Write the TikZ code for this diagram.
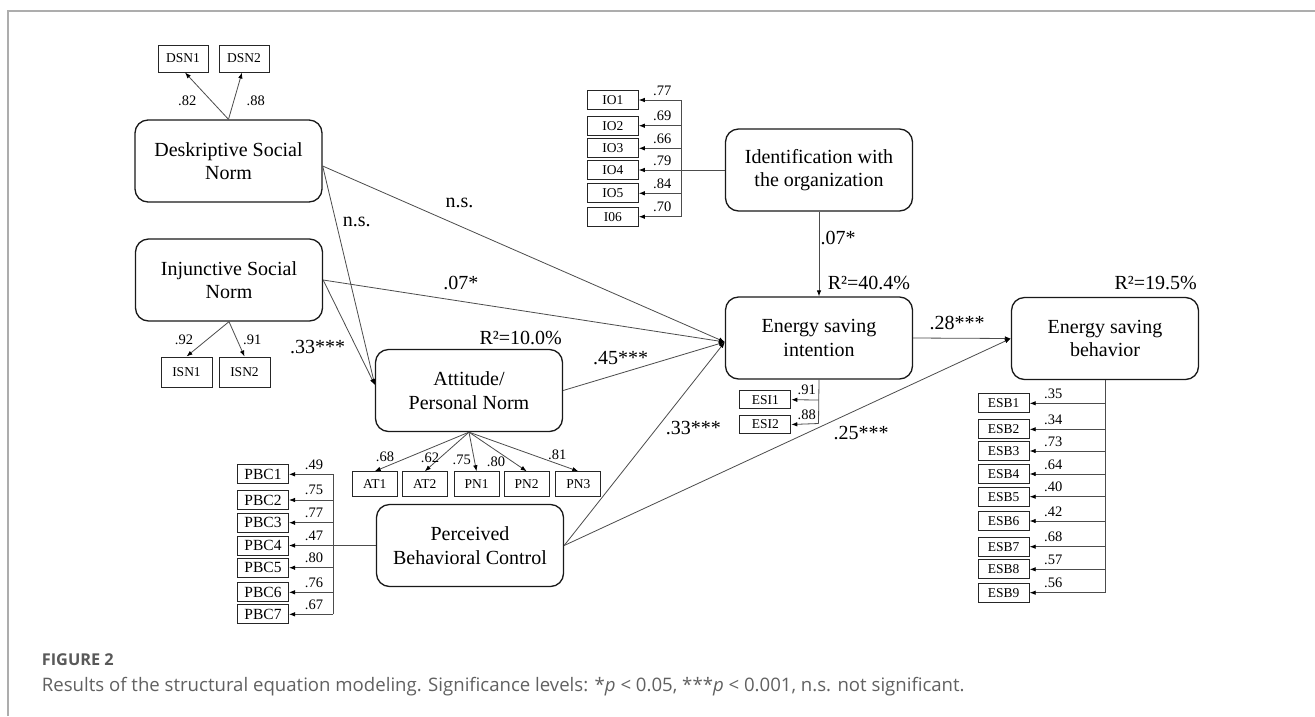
\documentclass[tikz,border=0pt]{standalone}
\usepackage{fontspec}
\setmainfont{Liberation Serif}
\newfontfamily\capfont{Open Sans}
\usetikzlibrary{arrows.meta,calc}
\begin{document}
\begin{tikzpicture}[x=1pt,y=-1pt,
  construct/.style={draw=black!90, line width=1.3pt, rounded corners=13pt, minimum width=187pt, minimum height=82pt, inner sep=0pt, align=center, font=\fontsize{20}{23.3}\selectfont},
  ind/.style={draw=black!85, line width=1pt, inner sep=0pt, minimum width=51pt, minimum height=19pt, font=\fontsize{13.5}{14}\selectfont},
  conn/.style={draw=black!70, line width=0.8pt},
  arr/.style={conn, -{Latex[length=6pt,width=4.5pt,color=black]}},
  lab/.style={inner sep=0pt, font=\fontsize{20}{22}\selectfont},
  slab/.style={inner sep=0pt, font=\fontsize{14.5}{16}\selectfont},
  border/.style={draw=black!32, line width=1.4pt}
]
\useasboundingbox (0,0) rectangle (1315,716);
\fill[white] (0,0) rectangle (1315,716);
\draw[border] (8,716) -- (8,11) -- (1315,11);

% constructs
\node[construct] (DSN) at (228.5,161) {Deskriptive Social\\Norm};
\node[construct] (ISN) at (229,280) {Injunctive Social\\Norm};
\node[construct] (ATT) at (469,390.5) {Attitude/\\Personal Norm};
\node[construct] (PBC) at (470,545.5) {Perceived\\Behavioral Control};
\node[construct] (IO) at (819,170) {Identification with\\the organization};
\node[construct] (ESI) at (819,338) {Energy saving\\intention};
\node[construct] (ESB) at (1105,338.5) {Energy saving\\behavior};

% DSN indicators
\node[ind, minimum height=27pt, minimum width=50pt] (DSN1) at (183,58.5) {DSN1};
\node[ind, minimum height=27pt, minimum width=50pt] (DSN2) at (244,58.5) {DSN2};
\draw[arr] (DSN.north) -- ($(DSN1.south)+(2,0)$);
\draw[arr] (DSN.north) -- ($(DSN2.south)+(-2,0)$);
\node[slab] at (187.3,100.7) {.82};
\node[slab] at (255.7,100.7) {.88};

% ISN indicators
\node[ind, minimum height=30pt] (ISN1) at (186.5,372) {ISN1};
\node[ind, minimum height=30pt] (ISN2) at (244.5,372) {ISN2};
\draw[arr] (ISN.south) -- (ISN1.north);
\draw[arr] (ISN.south) -- (ISN2.north);
\node[slab] at (184,339.3) {.92};
\node[slab] at (252.3,339.3) {.91};

% Attitude indicators
\foreach \n/\x/\t in {AT1/374.7/AT1, AT2/424.8/AT2, PN1/476.5/PN1, PN2/526.7/PN2, PN3/578.3/PN3}{
  \node[ind, minimum width=45pt, minimum height=24.5pt] (\n) at (\x,484) {\t};
  \draw[arr] (ATT.south) -- (\n.north);
}
\node[slab] at (385,456.7) {.68};
\node[slab] at (430,458) {.62};
\node[slab] at (461.7,460) {.75};
\node[slab] at (496,461.7) {.80};
\node[slab] at (557.3,455) {.81};

% IO indicators
\coordinate (iotrunk) at (681.7,170);
\draw[conn] (IO.west) -- (iotrunk);
\coordinate (iotop) at (681.7,100);
\coordinate (iobot) at (681.7,216.7);
\draw[conn] (iotop) -- (iobot);
\foreach \i/\t/\y/\v in {1/IO1/100/.77, 2/IO2/125.7/.69, 3/IO3/148.3/.66, 4/IO4/170/.79, 5/IO5/193.3/.84, 6/I06/216.7/.70}{
  \node[ind] (IOi\i) at (612.8,\y) {\t};
  \coordinate (ioj\i) at (681.7,\y);
  \draw[arr] (ioj\i) -- (IOi\i.east);
  \node[slab] at (662.3,{\y-9.5}) {\v};
}

% ESI indicators
\node[ind, minimum height=17.5pt] (ESI1) at (765.3,399.7) {ESI1};
\node[ind, minimum height=17.5pt] (ESI2) at (765.3,424.5) {ESI2};
\coordinate (esij1) at (818.5,400);
\coordinate (esij2) at (818.5,423.5);
\draw[conn] (ESI.south) -- (esij2);
\draw[arr] (esij1) -- (ESI1.east);
\draw[arr] (esij2) -- (ESI2.east);
\node[slab] at (806.7,390) {.91};
\node[slab] at (806.7,415) {.88};

% ESB indicators
\coordinate (esbbot) at (1105,592.7);
\draw[conn] (ESB.south) -- (esbbot);
\foreach \i/\y/\v in {1/403.3/.35, 2/429.3/.34, 3/451/.73, 4/474/.64, 5/496.7/.40, 6/521/.42, 7/546.7/.68, 8/569.3/.57, 9/592.7/.56}{
  \node[ind] (ESB\i) at (1003.7,\y) {ESB\i};
  \coordinate (esbj\i) at (1105,\y);
  \draw[arr] (esbj\i) -- (ESB\i.east);
  \node[slab] at (1053.3,{\y-9.5}) {\v};
}

% PBC indicators
\coordinate (pbctrunk) at (333.3,545.5);
\draw[conn] (PBC.west) -- (pbctrunk);
\coordinate (pbctop) at (333.3,474.3);
\coordinate (pbcbot) at (333.3,614.3);
\draw[conn] (pbctop) -- (pbcbot);
\foreach \i/\y/\v in {1/474.3/.49, 2/500/.75, 3/522.7/.77, 4/545.5/.47, 5/567.7/.80, 6/592.3/.76, 7/614.3/.67}{
  \node[ind, font=\fontsize{15.5}{16}\selectfont] (PBC\i) at (263,\y) {PBC\i};
  \coordinate (pbcj\i) at (333.3,\y);
  \draw[arr] (pbcj\i) -- (PBC\i.east);
  \node[slab] at (314,{\y-10}) {\v};
}

% structural paths
\coordinate (dsnout) at ($(DSN.east)+(0,5)$);
\coordinate (attin) at ($(ATT.west)+(0,-5.5)$);
\coordinate (esiin) at ($(ESI.west)+(0,4)$);
\draw[arr] (dsnout) -- (attin);
\draw[arr] (ISN.east) -- (attin);
\draw[arr] (dsnout) -- (esiin);
\draw[arr] (ISN.east) -- (esiin);
\draw[arr] (ATT.east) -- (esiin);
\draw[arr] (PBC.east) -- (esiin);
\draw[arr] (PBC.east) -- (ESB.west);
\draw[arr] (ESI.east) -- (ESB.west);
\draw[arr] (IO.south) -- (ESI.north);

% path labels
\node[lab] at (356.7,221.7) {n.s.};
\node[lab] at (459.5,203.3) {n.s.};
\node[lab] at (460.8,283.3) {.07*};
\node[lab] at (317.5,347.3) {.33***};
\node[lab] at (620.5,358.3) {.45***};
\node[lab] at (520.7,338) {R²=10.0\%};
\node[lab] at (838,238.3) {.07*};
\node[lab] at (869,283) {R²=40.4\%};
\node[lab] at (957,323) {.28***};
\node[lab] at (1155.7,283) {R²=19.5\%};
\node[lab] at (693.3,428.3) {.33***};
\node[lab] at (861,433.3) {.25***};

% caption
\node[anchor=west, inner sep=0pt, text=black!65, font=\capfont\bfseries\fontsize{16.3}{19}\selectfont] (fig) at (41.7,660) {FIGURE 2};
\node[anchor=west, inner sep=0pt, text=black!62, font=\capfont\fontsize{18.6}{21}\selectfont] (cap) at (41.7,686.7) {Results of the structural equation modeling. Significance levels: *\textit{p} < 0.05, ***\textit{p} < 0.001, n.s. not significant.};
\end{tikzpicture}
\end{document}
